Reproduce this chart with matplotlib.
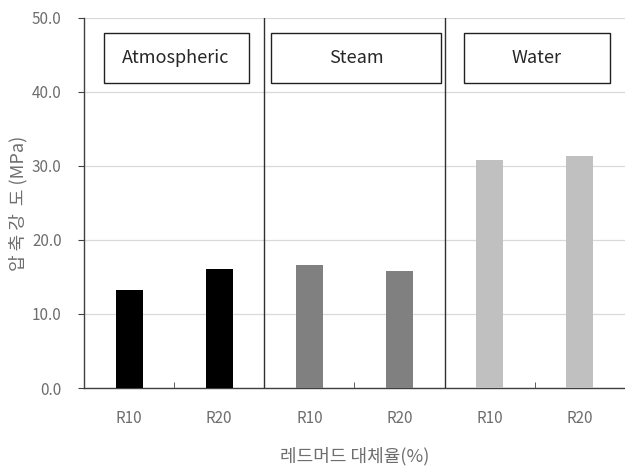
import matplotlib.pyplot as plt
from matplotlib.patches import Rectangle

plt.rcParams['font.family'] = ['Noto Sans CJK KR', 'DejaVu Sans']

# 데이터
조건 = ['Atmospheric', 'Steam', 'Water']
대체율 = ['R10', 'R20', 'R10', 'R20', 'R10', 'R20']
압축강도 = [13.2, 16.1, 16.6, 15.8, 30.8, 31.4]
막대색 = ['#000000', '#000000', '#808080', '#808080', '#c0c0c0', '#c0c0c0']

fig = plt.figure(figsize=(6.25, 4.73), dpi=100)
ax = fig.add_axes([0.1344, 0.1797, 0.8656, 0.7823])

x = list(range(len(압축강도)))
ax.bar(x, 압축강도, width=0.3, color=막대색, zorder=3)

ax.set_xlim(-0.5, 5.5)
ax.set_ylim(0, 50)
ax.set_yticks([0, 10, 20, 30, 40, 50])
ax.set_yticklabels([f"{v:.1f}" for v in [0, 10, 20, 30, 40, 50]])
ax.yaxis.grid(True, color='#d9d9d9', linewidth=0.9, zorder=0)
ax.set_xticks(x)
ax.set_xticklabels(대체율)
ax.set_xticks([0.5, 2.5, 4.5], minor=True)
ax.tick_params(axis='x', which='major', length=0, pad=16, labelsize=11, labelcolor='#6e6e6e')
ax.tick_params(axis='x', which='minor', length=4, direction='in', color='#404040')
ax.tick_params(axis='y', length=4, direction='out', pad=12, labelsize=11, labelcolor='#6e6e6e',
               color='#404040')

for s in ['top', 'right']:
    ax.spines[s].set_visible(False)
ax.spines['left'].set_color('#404040')
ax.spines['bottom'].set_color('#404040')
ax.spines['left'].set_linewidth(1.0)
ax.spines['bottom'].set_linewidth(1.0)

# 구분선
for xd in [1.5, 3.5]:
    ax.axvline(xd, color='#303030', linewidth=1.0, zorder=4)

# 조건 라벨 박스
박스 = [(-0.283, 1.325), (1.573, 3.463), (3.713, 5.331)]
for name, (x0, x1) in zip(조건, 박스):
    ax.add_patch(Rectangle((x0, 41.2), x1 - x0, 6.8, fill=False, edgecolor='#202020',
                           linewidth=1.0, zorder=5))
    ax.text((x0 + x1) / 2, 44.6, name, ha='center', va='center', fontsize=13,
            color='#262626', zorder=6)

ax.set_xlabel('레드머드 대체율(%)', fontsize=13, color='#6e6e6e', labelpad=14)
ax.set_ylabel('압 축 강  도 (MPa)', fontsize=13, color='#6e6e6e', labelpad=6)
ax.yaxis.set_label_coords(-0.105, 0.5)

fig.savefig('out.png', dpi=100)
